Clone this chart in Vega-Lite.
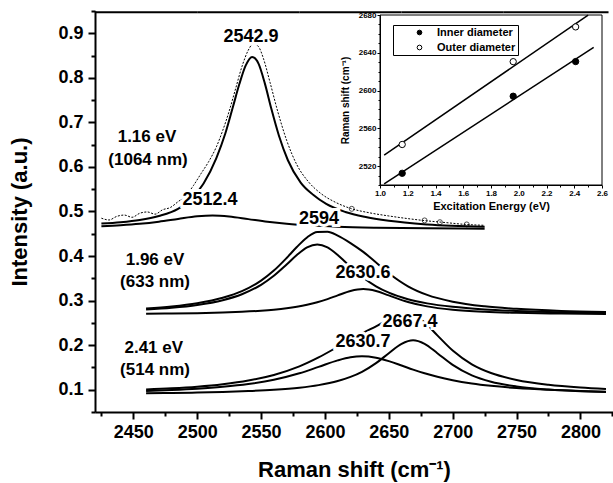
{
  "$schema": "https://vega.github.io/schema/vega-lite/v6.json",
  "width": 518,
  "height": 401,
  "autosize": {"type": "none"},
  "padding": {"left": 95, "top": 11, "right": 0, "bottom": 71},
  "background": "white",
  "config": {"view": {"stroke": null}, "font": "Liberation Sans"},
  "resolve": {"scale": {"x": "independent", "y": "independent"}, "axis": {"x": "independent", "y": "independent"}},
  "layer": [
    {
      "encoding": {
        "x": {"field": "x", "type": "quantitative",
          "scale": {"domain": [2420, 2825.5], "nice": false, "zero": false},
          "axis": {"orient": "bottom", "values": [2425,2450,2475,2500,2525,2550,2575,2600,2625,2650,2675,2700,2725,2750,2775,2800,2825],
            "format": "d", "labelExpr": "datum.value % 50 === 0 ? datum.label : ''",
            "tickSize": {"condition": {"test": "datum.value % 50 === 0", "value": 7}, "value": 4},
            "labelFont": "Liberation Sans", "labelFontSize": 18, "labelFontWeight": "bold", "labelColor": "black", "labelPadding": 4,
            "labelFlush": false, "labelOverlap": false, "grid": false,
            "tickColor": "black", "tickWidth": 2, "domainColor": "black", "domainWidth": 2,
            "title": "Raman shift (cm⁻¹)", "titleFont": "Liberation Sans", "titleFontSize": 22, "titleFontWeight": "bold", "titleColor": "black", "titlePadding": 18}},
        "y": {"field": "y", "type": "quantitative",
          "scale": {"domain": [0.05, 0.95], "nice": false, "zero": false},
          "axis": {"orient": "left", "values": [0.05,0.1,0.15,0.2,0.25,0.3,0.35,0.4,0.45,0.5,0.55,0.6,0.65,0.7,0.75,0.8,0.85,0.9,0.95],
            "format": ".1f", "labelExpr": "round(datum.value*100) % 10 === 0 ? datum.label : ''",
            "tickSize": {"condition": {"test": "round(datum.value*100) % 10 === 0", "value": 7}, "value": 4},
            "labelFont": "Liberation Sans", "labelFontSize": 18, "labelFontWeight": "bold", "labelColor": "black", "labelPadding": 5,
            "labelFlush": false, "labelOverlap": false, "grid": false,
            "tickColor": "black", "tickWidth": 2, "domainColor": "black", "domainWidth": 2,
            "title": "Intensity (a.u.)", "titleFont": "Liberation Sans", "titleFontSize": 22, "titleFontWeight": "bold", "titleColor": "black", "titlePadding": 26}}
      },
      "layer": [
        {
          "data": {"values": [
            {"x":2425,"y":0.485},{"x":2431,"y":0.481},{"x":2437,"y":0.489},{"x":2443,"y":0.492},{"x":2449,"y":0.487},
            {"x":2455,"y":0.496},{"x":2461,"y":0.499},{"x":2467,"y":0.494},{"x":2473,"y":0.504},{"x":2479,"y":0.509},
            {"x":2485,"y":0.522},{"x":2491,"y":0.535},{"x":2497,"y":0.558},{"x":2503,"y":0.585},{"x":2509,"y":0.612},
            {"x":2515,"y":0.645},{"x":2520,"y":0.682},{"x":2525,"y":0.725},{"x":2530,"y":0.775},{"x":2535,"y":0.825},
            {"x":2540,"y":0.862},{"x":2544,"y":0.877},{"x":2548,"y":0.870},{"x":2552,"y":0.842},{"x":2557,"y":0.790},
            {"x":2563,"y":0.725},{"x":2570,"y":0.660},{"x":2578,"y":0.605},{"x":2587,"y":0.567},{"x":2597,"y":0.540},
            {"x":2608,"y":0.521},{"x":2620,"y":0.507},{"x":2635,"y":0.497},{"x":2650,"y":0.490},{"x":2665,"y":0.484},
            {"x":2680,"y":0.479},{"x":2695,"y":0.475},{"x":2710,"y":0.471},{"x":2725,"y":0.469}
          ]},
          "mark": {"type": "line", "color": "black", "strokeWidth": 1, "strokeDash": [2, 1.5], "interpolate": "monotone"}
        },
        {
          "data": {"values": [{"x":2621,"y":0.506},{"x":2678,"y":0.480},{"x":2690,"y":0.476},{"x":2711,"y":0.471}]},
          "mark": {"type": "point", "shape": "circle", "filled": false, "color": "black", "strokeWidth": 1, "size": 25}
        },
        {
          "data": {"values": [
            {"c":"g1t","x":2425,"y":0.473},{"c":"g1t","x":2440,"y":0.476},{"c":"g1t","x":2455,"y":0.481},{"c":"g1t","x":2470,"y":0.490},
            {"c":"g1t","x":2485,"y":0.506},{"c":"g1t","x":2495,"y":0.527},{"c":"g1t","x":2505,"y":0.563},{"c":"g1t","x":2515,"y":0.620},
            {"c":"g1t","x":2522,"y":0.675},{"c":"g1t","x":2528,"y":0.735},{"c":"g1t","x":2533,"y":0.786},{"c":"g1t","x":2538,"y":0.828},
            {"c":"g1t","x":2543,"y":0.847},{"c":"g1t","x":2548,"y":0.832},{"c":"g1t","x":2553,"y":0.787},{"c":"g1t","x":2558,"y":0.731},
            {"c":"g1t","x":2564,"y":0.670},{"c":"g1t","x":2571,"y":0.615},{"c":"g1t","x":2581,"y":0.565},{"c":"g1t","x":2591,"y":0.537},
            {"c":"g1t","x":2601,"y":0.517},{"c":"g1t","x":2616,"y":0.499},{"c":"g1t","x":2631,"y":0.488},{"c":"g1t","x":2650,"y":0.479},
            {"c":"g1t","x":2680,"y":0.471},{"c":"g1t","x":2725,"y":0.466},

            {"c":"g1f","x":2425,"y":0.4670},{"c":"g1f","x":2440,"y":0.4693},{"c":"g1f","x":2455,"y":0.4725},{"c":"g1f","x":2470,"y":0.4772},
            {"c":"g1f","x":2485,"y":0.4833},{"c":"g1f","x":2500,"y":0.4891},{"c":"g1f","x":2512,"y":0.4910},{"c":"g1f","x":2525,"y":0.4888},
            {"c":"g1f","x":2540,"y":0.4829},{"c":"g1f","x":2555,"y":0.4769},{"c":"g1f","x":2570,"y":0.4723},{"c":"g1f","x":2590,"y":0.4683},
            {"c":"g1f","x":2610,"y":0.4658},{"c":"g1f","x":2640,"y":0.4637},{"c":"g1f","x":2680,"y":0.4623},{"c":"g1f","x":2725,"y":0.4614},

            {"c":"g2t","x":2460,"y":0.2822},{"c":"g2t","x":2480,"y":0.2868},{"c":"g2t","x":2500,"y":0.2941},{"c":"g2t","x":2520,"y":0.3063},
            {"c":"g2t","x":2535,"y":0.3212},{"c":"g2t","x":2550,"y":0.3448},{"c":"g2t","x":2560,"y":0.3674},{"c":"g2t","x":2570,"y":0.3957},
            {"c":"g2t","x":2578,"y":0.4203},{"c":"g2t","x":2586,"y":0.4418},{"c":"g2t","x":2594,"y":0.4542},{"c":"g2t","x":2602,"y":0.4547},
            {"c":"g2t","x":2610,"y":0.4459},{"c":"g2t","x":2620,"y":0.4292},{"c":"g2t","x":2630,"y":0.4093},{"c":"g2t","x":2640,"y":0.3857},
            {"c":"g2t","x":2650,"y":0.3615},{"c":"g2t","x":2665,"y":0.3322},{"c":"g2t","x":2680,"y":0.3129},{"c":"g2t","x":2700,"y":0.2976},
            {"c":"g2t","x":2725,"y":0.2872},{"c":"g2t","x":2750,"y":0.2815},{"c":"g2t","x":2785,"y":0.2768},{"c":"g2t","x":2820,"y":0.2743},

            {"c":"g2a","x":2460,"y":0.2798},{"c":"g2a","x":2480,"y":0.2838},{"c":"g2a","x":2500,"y":0.2902},{"c":"g2a","x":2520,"y":0.3010},
            {"c":"g2a","x":2535,"y":0.3143},{"c":"g2a","x":2550,"y":0.3355},{"c":"g2a","x":2560,"y":0.3558},{"c":"g2a","x":2570,"y":0.3810},
            {"c":"g2a","x":2578,"y":0.4022},{"c":"g2a","x":2586,"y":0.4193},{"c":"g2a","x":2594,"y":0.4260},{"c":"g2a","x":2602,"y":0.4193},
            {"c":"g2a","x":2610,"y":0.4022},{"c":"g2a","x":2620,"y":0.3756},{"c":"g2a","x":2630,"y":0.3513},{"c":"g2a","x":2640,"y":0.3321},
            {"c":"g2a","x":2650,"y":0.3178},{"c":"g2a","x":2665,"y":0.3032},{"c":"g2a","x":2680,"y":0.2938},{"c":"g2a","x":2700,"y":0.2860},
            {"c":"g2a","x":2725,"y":0.2803},{"c":"g2a","x":2750,"y":0.2769},{"c":"g2a","x":2785,"y":0.2740},{"c":"g2a","x":2820,"y":0.2724},

            {"c":"g2b","x":2460,"y":0.2704},{"c":"g2b","x":2480,"y":0.2710},{"c":"g2b","x":2500,"y":0.2719},{"c":"g2b","x":2520,"y":0.2733},
            {"c":"g2b","x":2535,"y":0.2749},{"c":"g2b","x":2550,"y":0.2773},{"c":"g2b","x":2560,"y":0.2796},{"c":"g2b","x":2570,"y":0.2827},
            {"c":"g2b","x":2578,"y":0.2861},{"c":"g2b","x":2586,"y":0.2905},{"c":"g2b","x":2594,"y":0.2962},{"c":"g2b","x":2602,"y":0.3034},
            {"c":"g2b","x":2610,"y":0.3117},{"c":"g2b","x":2620,"y":0.3216},{"c":"g2b","x":2630,"y":0.3260},{"c":"g2b","x":2640,"y":0.3216},
            {"c":"g2b","x":2650,"y":0.3117},{"c":"g2b","x":2665,"y":0.2970},{"c":"g2b","x":2680,"y":0.2871},{"c":"g2b","x":2700,"y":0.2796},
            {"c":"g2b","x":2725,"y":0.2749},{"c":"g2b","x":2750,"y":0.2726},{"c":"g2b","x":2785,"y":0.2708},{"c":"g2b","x":2820,"y":0.2699},

            {"c":"g3t","x":2460,"y":0.1004},{"c":"g3t","x":2480,"y":0.1031},{"c":"g3t","x":2500,"y":0.1069},{"c":"g3t","x":2520,"y":0.1125},
            {"c":"g3t","x":2540,"y":0.1207},{"c":"g3t","x":2560,"y":0.1332},{"c":"g3t","x":2580,"y":0.1524},{"c":"g3t","x":2595,"y":0.1725},
            {"c":"g3t","x":2610,"y":0.1962},{"c":"g3t","x":2620,"y":0.2125},{"c":"g3t","x":2629,"y":0.2262},{"c":"g3t","x":2640,"y":0.2423},
            {"c":"g3t","x":2650,"y":0.2571},{"c":"g3t","x":2660,"y":0.2683},{"c":"g3t","x":2669,"y":0.2672},{"c":"g3t","x":2678,"y":0.2509},
            {"c":"g3t","x":2688,"y":0.2220},{"c":"g3t","x":2700,"y":0.1879},{"c":"g3t","x":2715,"y":0.1571},{"c":"g3t","x":2730,"y":0.1376},
            {"c":"g3t","x":2750,"y":0.1220},{"c":"g3t","x":2775,"y":0.1111},{"c":"g3t","x":2800,"y":0.1048},{"c":"g3t","x":2820,"y":0.1015},

            {"c":"g3c","x":2460,"y":0.0972},{"c":"g3c","x":2480,"y":0.0993},{"c":"g3c","x":2500,"y":0.1022},{"c":"g3c","x":2520,"y":0.1065},
            {"c":"g3c","x":2540,"y":0.1128},{"c":"g3c","x":2560,"y":0.1224},{"c":"g3c","x":2580,"y":0.1369},{"c":"g3c","x":2595,"y":0.1512},
            {"c":"g3c","x":2610,"y":0.1658},{"c":"g3c","x":2620,"y":0.1728},{"c":"g3c","x":2629,"y":0.1750},{"c":"g3c","x":2640,"y":0.1717},
            {"c":"g3c","x":2650,"y":0.1641},{"c":"g3c","x":2660,"y":0.1543},{"c":"g3c","x":2669,"y":0.1452},{"c":"g3c","x":2678,"y":0.1369},
            {"c":"g3c","x":2688,"y":0.1290},{"c":"g3c","x":2700,"y":0.1213},{"c":"g3c","x":2715,"y":0.1140},{"c":"g3c","x":2730,"y":0.1087},
            {"c":"g3c","x":2750,"y":0.1037},{"c":"g3c","x":2775,"y":0.0997},{"c":"g3c","x":2800,"y":0.0971},{"c":"g3c","x":2820,"y":0.0956},

            {"c":"g3d","x":2460,"y":0.0922},{"c":"g3d","x":2480,"y":0.0928},{"c":"g3d","x":2500,"y":0.0937},{"c":"g3d","x":2520,"y":0.0950},
            {"c":"g3d","x":2540,"y":0.0969},{"c":"g3d","x":2560,"y":0.0998},{"c":"g3d","x":2580,"y":0.1045},{"c":"g3d","x":2595,"y":0.1103},
            {"c":"g3d","x":2610,"y":0.1194},{"c":"g3d","x":2620,"y":0.1287},{"c":"g3d","x":2629,"y":0.1402},{"c":"g3d","x":2640,"y":0.1596},
            {"c":"g3d","x":2650,"y":0.1820},{"c":"g3d","x":2660,"y":0.2030},{"c":"g3d","x":2669,"y":0.2110},{"c":"g3d","x":2678,"y":0.2030},
            {"c":"g3d","x":2688,"y":0.1820},{"c":"g3d","x":2700,"y":0.1556},{"c":"g3d","x":2715,"y":0.1321},{"c":"g3d","x":2730,"y":0.1179},
            {"c":"g3d","x":2750,"y":0.1073},{"c":"g3d","x":2775,"y":0.1004},{"c":"g3d","x":2800,"y":0.0967},{"c":"g3d","x":2820,"y":0.0949}
          ]},
          "mark": {"type": "line", "color": "black", "strokeWidth": 2, "interpolate": "monotone"},
          "encoding": {"detail": {"field": "c", "type": "nominal"}}
        },
        {
          "data": {"name": "peaks", "values": [
            {"x": 2542.1, "y": 0.892, "t": "2542.9"},
            {"x": 2510.0, "y": 0.526, "t": "2512.4"},
            {"x": 2595.3, "y": 0.483, "t": "2594"},
            {"x": 2629.8, "y": 0.362, "t": "2630.6"},
            {"x": 2666.6, "y": 0.252, "t": "2667.4"},
            {"x": 2629.8, "y": 0.207, "t": "2630.7"}
          ]},
          "mark": {"type": "text", "font": "Liberation Sans", "fontSize": 18, "fontWeight": "bold", "align": "center", "baseline": "middle", "color": "white", "stroke": "white", "strokeWidth": 6},
          "encoding": {"text": {"field": "t"}}
        },
        {
          "data": {"name": "peaks"},
          "mark": {"type": "text", "font": "Liberation Sans", "fontSize": 18, "fontWeight": "bold", "align": "center", "baseline": "middle", "color": "black"},
          "encoding": {"text": {"field": "t"}}
        },
        {
          "data": {"values": [
            {"x": 2460.7, "y": 0.667, "t": "1.16 eV"},
            {"x": 2461.5, "y": 0.616, "t": "(1064 nm)"},
            {"x": 2467, "y": 0.391, "t": "1.96 eV"},
            {"x": 2467, "y": 0.342, "t": "(633 nm)"},
            {"x": 2466, "y": 0.194, "t": "2.41 eV"},
            {"x": 2467, "y": 0.144, "t": "(514 nm)"}
          ]},
          "mark": {"type": "text", "font": "Liberation Sans", "fontSize": 17, "fontWeight": "bold", "align": "center", "baseline": "middle", "color": "black"},
          "encoding": {"text": {"field": "t"}}
        },
        {
          "data": {"values": [
            {"s": "a", "x": 2420, "y": 0.947}, {"s": "a", "x": 2500, "y": 0.947},
            {"s": "b", "x": 2500, "y": 0.947}, {"s": "b", "x": 2580, "y": 0.947},
            {"s": "c", "x": 2580, "y": 0.947}, {"s": "c", "x": 2660, "y": 0.947},
            {"s": "d", "x": 2660, "y": 0.947}, {"s": "d", "x": 2740, "y": 0.947},
            {"s": "e", "x": 2740, "y": 0.947}, {"s": "e", "x": 2822, "y": 0.947}
          ]},
          "mark": {"type": "line", "color": "black", "strokeWidth": 2, "clip": false},
          "encoding": {"detail": {"field": "s", "type": "nominal"}}
        }
      ]
    },
    {
      "encoding": {
        "x": {"field": "e", "type": "quantitative",
          "scale": {"domain": [1.0, 2.6], "range": [285, 507], "nice": false, "zero": false},
          "axis": {"orient": "bottom", "offset": -227, "zindex": 1,
            "values": [1.0,1.1,1.2,1.3,1.4,1.5,1.6,1.7,1.8,1.9,2.0,2.1,2.2,2.3,2.4,2.5,2.6],
            "format": ".1f", "labelExpr": "round(datum.value*10) % 2 === 0 ? datum.label : ''",
            "tickSize": {"condition": {"test": "round(datum.value*10) % 2 === 0", "value": 3}, "value": 2},
            "labelFont": "Liberation Sans", "labelFontSize": 8, "labelFontWeight": "bold", "labelColor": "black", "labelPadding": 1,
            "labelFlush": false, "labelOverlap": false, "grid": false,
            "tickColor": "black", "tickWidth": 1, "domainColor": "black", "domainWidth": 1,
            "title": "Excitation Energy (eV)", "titleFont": "Liberation Sans", "titleFontSize": 11, "titleFontWeight": "bold", "titleColor": "black", "titlePadding": 3}},
        "y": {"field": "r", "type": "quantitative",
          "scale": {"domain": [2500, 2680], "range": [174, 4], "nice": false, "zero": false},
          "axis": {"orient": "left", "offset": -285, "zindex": 1,
            "values": [2500,2510,2520,2530,2540,2550,2560,2570,2580,2590,2600,2610,2620,2630,2640,2650,2660,2670,2680],
            "format": "d", "labelExpr": "datum.value % 40 === 0 ? datum.label : ''",
            "tickSize": {"condition": {"test": "datum.value % 40 === 0", "value": 3}, "value": 2},
            "labelFont": "Liberation Sans", "labelFontSize": 8, "labelFontWeight": "bold", "labelColor": "black", "labelPadding": 1,
            "labelFlush": false, "labelOverlap": false, "grid": false,
            "tickColor": "black", "tickWidth": 1, "domainColor": "black", "domainWidth": 1,
            "title": "Raman shift (cm⁻¹)", "titleFont": "Liberation Sans", "titleFontSize": 10, "titleFontWeight": "bold", "titleColor": "black", "titlePadding": 8}}
      },
      "layer": [
        {
          "data": {"values": [{"e": 1.0, "e2": 2.6, "r": 2500, "r2": 2680}]},
          "mark": {"type": "rect", "fill": "white", "stroke": "black", "strokeWidth": 1},
          "encoding": {"x2": {"field": "e2"}, "y2": {"field": "r2"}}
        },
        {
          "data": {"values": [
            {"f": "inner", "e": 1.03, "r": 2501.3}, {"f": "inner", "e": 2.54, "r": 2645.6},
            {"f": "outer", "e": 1.03, "r": 2531.7}, {"f": "outer", "e": 2.50, "r": 2679.8}
          ]},
          "mark": {"type": "line", "color": "black", "strokeWidth": 1.5},
          "encoding": {"detail": {"field": "f", "type": "nominal"}}
        },
        {
          "data": {"values": [
            {"s": "Inner diameter", "e": 1.16, "r": 2512.4},
            {"s": "Inner diameter", "e": 1.96, "r": 2594.0},
            {"s": "Inner diameter", "e": 2.41, "r": 2630.7},
            {"s": "Outer diameter", "e": 1.16, "r": 2542.9},
            {"s": "Outer diameter", "e": 1.96, "r": 2630.6},
            {"s": "Outer diameter", "e": 2.41, "r": 2667.4}
          ]},
          "mark": {"type": "point", "shape": "circle", "filled": true, "stroke": "black", "strokeWidth": 1, "size": 40, "opacity": 1},
          "encoding": {
            "fill": {"field": "s", "type": "nominal",
              "scale": {"domain": ["Inner diameter", "Outer diameter"], "range": ["black", "white"]},
              "legend": {"orient": "none", "legendX": 298, "legendY": 14, "title": null,
                "strokeColor": "black", "fillColor": "white", "padding": 2,
                "labelFont": "Liberation Sans", "labelFontSize": 11, "labelFontWeight": "bold", "labelColor": "black",
                "symbolType": "circle", "symbolSize": 22, "symbolStrokeColor": "black", "symbolStrokeWidth": 1,
                "symbolOffset": 19, "labelOffset": 12, "rowPadding": 3}}
          }
        }
      ]
    }
  ]
}
